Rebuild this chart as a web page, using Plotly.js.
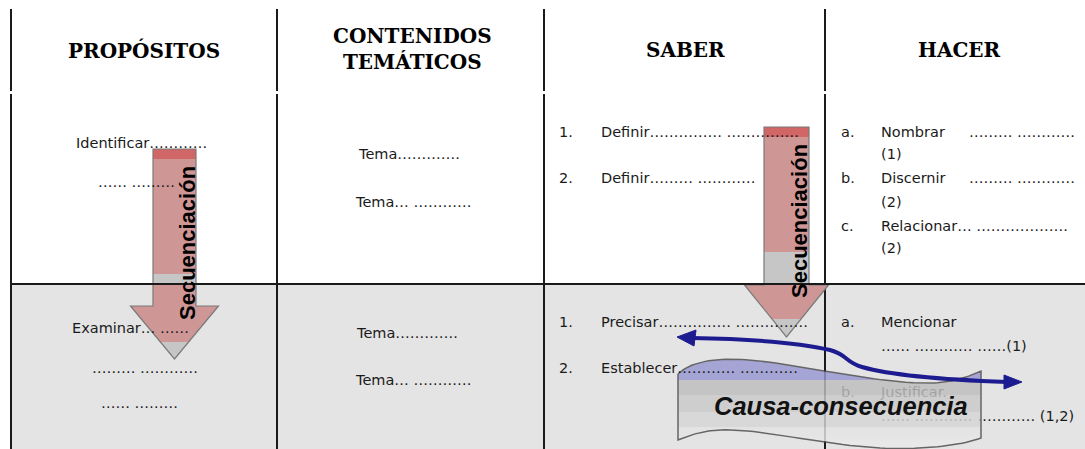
<!DOCTYPE html>
<html><head><meta charset="utf-8">
<script src="https://cdn.plot.ly/plotly-3.0.1.min.js"></script>
<style>html,body{margin:0;padding:0;background:#fff}#chart{width:1085px;height:449px}</style>
</head><body><div id="chart"></div>
<script>
// ---------- content (texts of the table) ----------
const headers = ['PROPÓSITOS', 'CONTENIDOS<br>TEMÁTICOS', 'SABER', 'HACER'];
const propositos = ['Identificar…………', '…… ………', 'Examinar… ……', '……… …………', '…… ………'];
const temas = ['Tema…………. ', 'Tema… …………', 'Tema…………. ', 'Tema… …………'];
const saberNums = ['1.', '2.', '1.', '2.'];
const saberItems = ['Definir…………… ……………', 'Definir……… …………', 'Precisar…………… ……………', 'Establecer………… …………'];
const hacerLetters = ['a.', 'b.', 'c.', 'a.'];
const hacerItems = ['Nombrar', '(1)', 'Discernir', '(2)', 'Relacionar… ……………….', '(2)', 'Mencionar', '…… ………… ……(1)'];
const hacerDots = ['……… …………', '……… …………'];
const underBannerTexts = ['b.', 'Justificar.', '…… ………… ………… (1,2)'];
const arrowLabel = 'Secuenciación';
const bannerLabel = 'Causa-consecuencia';

// ---------- layout geometry (pixel coordinates, y downward) ----------
const W = 1085, H = 449;
const colX = [11, 277, 544, 825];
const headerPos = [[144, 50], [412, 49], [685, 50], [959, 50]];
const propPos = [[76,143],[98,182],[72,328],[92,368],[101,403]];
const temaPos = [[358,154],[355,202],[356,333],[355,380]];
const saberNumPos = [[559,132],[559,178],[559,322],[559,368]];
const saberItemPos = [[601,132],[601,178],[601,322],[601,368]];
const hacerLetterPos = [[841,132],[841,178],[841,226],[841,322]];
const hacerItemPos = [[881,132],[881,154],[881,178],[881,202],[881,226],[881,248],[881,322],[881,346]];
const hacerDotsPos = [[969,132],[969,178]];
const underBannerPos = [[841,393],[881,393],[881,417]];

const bodyFont = {family: 'DejaVu Sans', size: 14.5, color: '#1a1a1a'};
const headFont = {family: 'DejaVu Serif', size: 20, color: '#000', weight: 'bold'};

const annotations = [];
function txt(text, x, y, font, extra) {
  annotations.push(Object.assign({
    text: text, x: x, y: y, xref: 'x', yref: 'y', showarrow: false,
    xanchor: 'left', yanchor: 'middle', font: font, borderpad: 0, borderwidth: 0
  }, extra || {}));
}
headers.forEach((h, i) => txt(h, headerPos[i][0], headerPos[i][1], headFont, {xanchor: 'center'}));
propositos.forEach((t, i) => txt(t, propPos[i][0], propPos[i][1], bodyFont));
temas.forEach((t, i) => txt(t, temaPos[i][0], temaPos[i][1], bodyFont));
saberNums.forEach((t, i) => txt(t, saberNumPos[i][0], saberNumPos[i][1], bodyFont));
saberItems.forEach((t, i) => txt(t, saberItemPos[i][0], saberItemPos[i][1], bodyFont));
hacerLetters.forEach((t, i) => txt(t, hacerLetterPos[i][0], hacerLetterPos[i][1], bodyFont));
hacerItems.forEach((t, i) => txt(t, hacerItemPos[i][0], hacerItemPos[i][1], bodyFont));
hacerDots.forEach((t, i) => txt(t, hacerDotsPos[i][0], hacerDotsPos[i][1], bodyFont));

// ---------- shapes ----------
const shapes = [];
const lineStyle = {color: '#1a1a1a', width: 2};
// row 2 background
shapes.push({type: 'rect', xref: 'x', yref: 'y', x0: colX[0], x1: W + 2, y0: 284, y1: H + 2,
  fillcolor: '#e4e4e4', line: {width: 0}, layer: 'below'});
// vertical lines (with a small break under the header)
colX.forEach(x => {
  shapes.push({type: 'line', xref: 'x', yref: 'y', x0: x, x1: x, y0: 9, y1: 91, line: lineStyle, layer: 'below'});
  shapes.push({type: 'line', xref: 'x', yref: 'y', x0: x, x1: x, y0: 94, y1: H + 2, line: lineStyle, layer: 'below'});
});

// Secuenciación arrows
function downArrow(cx, bh, top, base, hh, tip, bands, tipGrayY) {
  bands.forEach(b => shapes.push({type: 'rect', xref: 'x', yref: 'y', x0: cx - bh, x1: cx + bh, y0: b[0], y1: b[1],
    fillcolor: b[2], line: {width: 0}, layer: 'below'}));
  shapes.push({type: 'path', xref: 'x', yref: 'y', layer: 'below', fillcolor: '#cf9696', line: {width: 0},
    path: `M ${cx - hh} ${base} L ${cx + hh} ${base} L ${cx} ${tip} Z`});
  const g = hh * (tip - tipGrayY) / (tip - base);
  shapes.push({type: 'path', xref: 'x', yref: 'y', layer: 'below', fillcolor: '#c6c6c6', line: {width: 0},
    path: `M ${cx - g} ${tipGrayY} L ${cx + g} ${tipGrayY} L ${cx} ${tip} Z`});
  shapes.push({type: 'path', xref: 'x', yref: 'y', layer: 'below', fillcolor: 'rgba(0,0,0,0)',
    line: {color: '#7a7a7a', width: 1.2},
    path: `M ${cx - bh} ${top} L ${cx + bh} ${top} L ${cx + bh} ${base} L ${cx + hh} ${base} L ${cx} ${tip} L ${cx - hh} ${base} L ${cx - bh} ${base} Z`});
}
downArrow(174.5, 21.5, 149, 306, 44, 359,
  [[149, 159, '#d16666'], [159, 274, '#cf9696'], [274, 284, '#c6c6c6'], [284, 306, '#cf9696']], 342);
downArrow(786.5, 22.5, 127, 285, 42, 337,
  [[127, 137, '#d16666'], [137, 252, '#cf9696'], [252, 285, '#c6c6c6']], 319);

// horizontal line between rows (drawn over the arrows)
shapes.push({type: 'line', xref: 'x', yref: 'y', x0: colX[0], x1: W + 2, y0: 284, y1: 284, line: lineStyle, layer: 'below'});

// Blue double arrow (above the banner)
const blue = '#1c1c90';
shapes.push({type: 'path', xref: 'x', yref: 'y', layer: 'above', line: {color: blue, width: 4},
  path: 'M 692 338 C 750 339 800 343 830 350 C 848 355 845 362 862 367 C 890 375 950 380 1007 382'});
shapes.push({type: 'path', xref: 'x', yref: 'y', layer: 'above', fillcolor: blue, line: {color: blue, width: 1},
  path: 'M 677 337 L 696 330 L 694 346 Z'});
shapes.push({type: 'path', xref: 'x', yref: 'y', layer: 'above', fillcolor: blue, line: {color: blue, width: 1},
  path: 'M 1022 382 L 1004 375 L 1004 389 Z'});

// arrow labels and banner label
txt('<b>' + arrowLabel + '</b>', 187, 243, {family: 'Liberation Sans', size: 22, color: '#000'}, {xanchor: 'center', textangle: -90});
txt('<b>' + arrowLabel + '</b>', 799, 221, {family: 'Liberation Sans', size: 22, color: '#000'}, {xanchor: 'center', textangle: -90});
txt('<b><i>' + bannerLabel + '</i></b>', 841, 406, {family: 'Liberation Sans', size: 25.5, color: '#111'}, {xanchor: 'center'});

// ---------- banner outline (sampled cubic curves) ----------
function bez(p, n) {
  const out = [];
  for (let k = 0; k <= n; k++) {
    const t = k / n, u = 1 - t;
    out.push([u*u*u*p[0][0] + 3*u*u*t*p[1][0] + 3*u*t*t*p[2][0] + t*t*t*p[3][0],
              u*u*u*p[0][1] + 3*u*u*t*p[1][1] + 3*u*t*t*p[2][1] + t*t*t*p[3][1]]);
  }
  return out;
}
const segs = [
  [[678,374],[690,362],[715,357],[750,360]],
  [[750,360],[800,364],[880,385],[935,383]],
  [[935,383],[955,382],[970,376],[981,371]],
  [[981,371],[981,390],[981,420],[981,438]],
  [[981,438],[960,446],[920,450],[880,448]],
  [[880,448],[820,445],[760,428],[720,430]],
  [[720,430],[700,431],[688,436],[678,440]],
  [[678,440],[678,420],[678,390],[678,374]]
];
let pts = [];
segs.forEach(s => pts = pts.concat(bez(s, 24)));

const traces = [
  {type: 'scatter', mode: 'text', x: underBannerPos.map(p => p[0]), y: underBannerPos.map(p => p[1]),
   text: underBannerTexts, textposition: 'middle right', textfont: bodyFont, hoverinfo: 'skip', showlegend: false},
  {type: 'scatter', mode: 'lines', x: pts.map(p => p[0]), y: pts.map(p => p[1]), fill: 'toself',
   fillgradient: {type: 'vertical', start: 358, stop: 449,
     colorscale: [[0, '#9898d2'], [0.24, '#9898d2'], [0.24, '#bebebe'], [0.41, '#bebebe'],
                  [0.41, '#cacaca'], [0.59, '#cacaca'], [0.59, '#d6d6d6'], [0.76, '#d6d6d6'],
                  [0.76, '#e2e2e2'], [1, '#ececec']]},
   line: {color: '#4a4a4a', width: 1.5}, opacity: 0.82, hoverinfo: 'skip', showlegend: false}
];

const layout = {
  width: W, height: H, margin: {l: 0, r: 0, t: 0, b: 0},
  paper_bgcolor: '#ffffff', plot_bgcolor: '#ffffff',
  xaxis: {range: [0, W], visible: false, fixedrange: true},
  yaxis: {range: [H, 0], visible: false, fixedrange: true},
  showlegend: false, shapes: shapes, annotations: annotations
};
Plotly.newPlot('chart', traces, layout, {displayModeBar: false, staticPlot: true});
</script></body></html>
